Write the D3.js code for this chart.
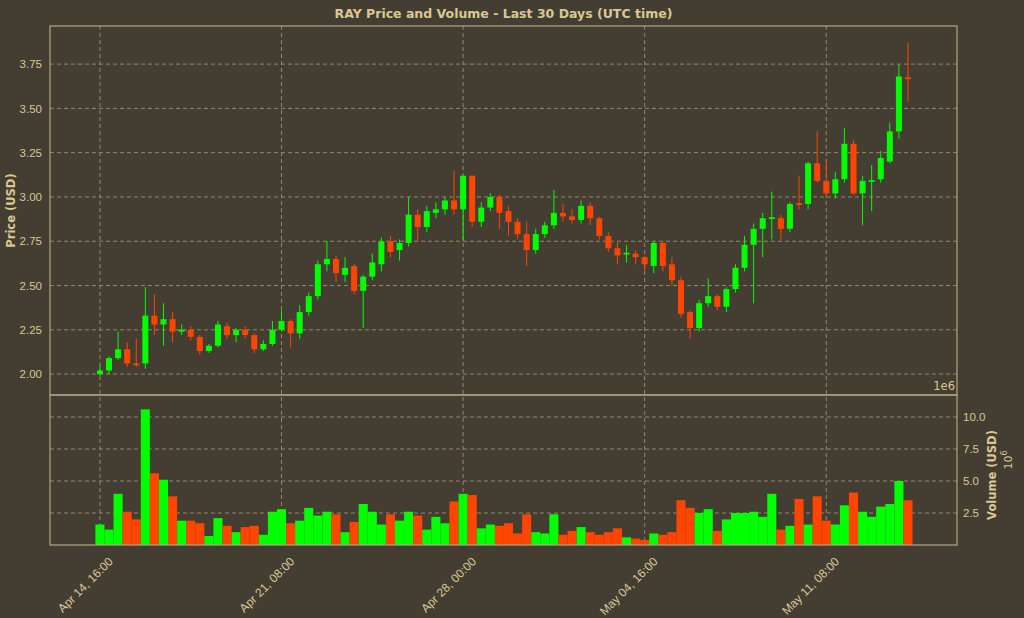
<!DOCTYPE html>
<html><head><meta charset="utf-8">
<script src="https://cdn.jsdelivr.net/npm/d3@7"></script>
<style>body{margin:0;background:#443d32;}svg{display:block;font-family:"DejaVu Sans",sans-serif;}</style>
</head><body><svg id="c" width="1024" height="618"></svg>
<script>
const opens =  [2.00,2.02,2.09,2.14,2.06,2.06,2.33,2.28,2.31,2.24,2.25,2.21,2.13,2.16,2.27,2.22,2.25,2.22,2.14,2.17,2.25,2.30,2.23,2.35,2.44,2.62,2.65,2.56,2.61,2.47,2.55,2.62,2.75,2.70,2.74,2.90,2.83,2.91,2.93,2.98,2.93,3.12,2.86,2.94,3.00,2.92,2.86,2.79,2.70,2.79,2.84,2.91,2.89,2.87,2.95,2.88,2.78,2.71,2.675,2.68,2.66,2.61,2.74,2.62,2.53,2.35,2.26,2.40,2.44,2.38,2.48,2.60,2.73,2.82,2.875,2.88,2.82,2.965,2.96,3.19,3.09,3.02,3.10,3.30,3.02,3.085,3.10,3.20,3.37,3.675];
const closes = [2.02,2.09,2.14,2.06,2.05,2.33,2.28,2.31,2.24,2.25,2.21,2.13,2.16,2.28,2.22,2.25,2.22,2.14,2.17,2.25,2.30,2.23,2.35,2.44,2.62,2.65,2.57,2.60,2.47,2.55,2.63,2.75,2.69,2.74,2.90,2.83,2.92,2.93,2.98,2.93,3.12,2.86,2.94,3.00,2.91,2.86,2.79,2.70,2.79,2.84,2.91,2.89,2.87,2.95,2.88,2.78,2.71,2.67,2.685,2.66,2.62,2.74,2.61,2.53,2.34,2.26,2.40,2.44,2.38,2.48,2.60,2.73,2.82,2.88,2.885,2.82,2.96,2.955,3.19,3.09,3.02,3.10,3.30,3.02,3.09,3.095,3.22,3.37,3.68,3.665];
const highs =  [2.05,2.10,2.24,2.18,2.20,2.49,2.45,2.40,2.35,2.28,2.27,2.22,2.17,2.30,2.29,2.26,2.27,2.23,2.19,2.30,2.36,2.31,2.39,2.46,2.64,2.75,2.67,2.66,2.62,2.56,2.68,2.77,2.78,2.76,3.00,2.93,2.95,2.97,3.00,3.15,3.12,3.12,2.97,3.02,3.01,2.95,2.88,2.86,2.82,2.86,3.04,2.96,2.93,2.98,2.97,2.89,2.80,2.75,2.73,2.70,2.67,2.75,2.75,2.66,2.55,2.36,2.42,2.54,2.45,2.49,2.62,2.78,2.85,2.91,3.03,2.90,2.97,3.12,3.20,3.37,3.21,3.14,3.39,3.32,3.12,3.18,3.26,3.42,3.75,3.87];
const lows =   [1.99,2.00,2.08,2.04,2.04,2.03,2.22,2.16,2.18,2.22,2.19,2.11,2.12,2.15,2.20,2.18,2.20,2.12,2.13,2.16,2.24,2.15,2.20,2.33,2.42,2.58,2.52,2.52,2.45,2.26,2.53,2.58,2.66,2.64,2.72,2.75,2.80,2.88,2.90,2.90,2.75,2.83,2.83,2.92,2.82,2.78,2.76,2.61,2.68,2.77,2.82,2.86,2.85,2.85,2.84,2.76,2.69,2.62,2.63,2.62,2.58,2.57,2.58,2.50,2.32,2.20,2.24,2.38,2.36,2.35,2.46,2.58,2.40,2.66,2.76,2.76,2.80,2.93,2.93,3.08,3.01,2.99,3.08,3.01,2.84,2.92,3.08,3.19,3.33,3.54];
const volumes = [1.6,1.2,4.0,2.6,2.0,10.6,5.6,5.1,3.8,1.9,1.9,1.7,0.7,2.1,1.5,1.0,1.4,1.5,0.8,2.6,2.8,1.7,1.9,2.9,2.3,2.6,2.4,1.0,1.8,3.2,2.6,1.6,2.4,1.9,2.6,2.3,1.2,2.2,1.7,3.4,4.0,3.9,1.3,1.6,1.5,1.7,0.9,2.4,1.0,0.9,2.4,0.8,1.1,1.4,1.0,0.8,1.0,1.3,0.6,0.5,0.4,0.9,0.8,1.0,3.5,2.9,2.5,2.8,1.1,2.0,2.5,2.5,2.6,2.2,4.0,1.2,1.5,3.6,1.6,3.8,1.9,1.6,3.1,4.1,2.6,2.2,3.0,3.2,5.0,3.5];
const xTickIdx = [0,20,40,60,80];
const xTickLabels = ["Apr 14, 16:00","Apr 21, 08:00","Apr 28, 00:00","May 04, 16:00","May 11, 08:00"];
const priceTicks = [2.00,2.25,2.50,2.75,3.00,3.25,3.50,3.75];
const volTicks = [2.5,5.0,7.5,10.0];

const TXT="#d9c894", GRID="#a79a78", FRAME="#b3a584", UP="#00ff00", DN="#ff4500";
const svg=d3.select("#c");
svg.append("rect").attr("width",1024).attr("height",618).attr("fill","#443d32");
const L=50,R=957,T=26,M=395,B=545;
const x=d3.scaleLinear().domain([-5.5,94.4]).range([L,R]);
const y=d3.scaleLinear().domain([1.882,3.965]).range([M,T]);
const yv=d3.scaleLinear().domain([0,11.72]).range([B,M]);
const grid=svg.append("g").attr("stroke",GRID).attr("stroke-dasharray","4,3").attr("stroke-width",0.8);
xTickIdx.forEach(i=>{grid.append("line").attr("x1",x(i)).attr("x2",x(i)).attr("y1",T).attr("y2",B);});
priceTicks.forEach(v=>grid.append("line").attr("x1",L).attr("x2",R).attr("y1",y(v)).attr("y2",y(v)));
volTicks.forEach(v=>grid.append("line").attr("x1",L).attr("x2",R).attr("y1",yv(v)).attr("y2",yv(v)));

const idx=d3.range(opens.length);
const col=i=>closes[i]>=opens[i]?UP:DN;
svg.append("g").selectAll("rect").data(idx).join("rect")
 .attr("x",i=>x(i-0.5)).attr("width",x(1)-x(0)).attr("y",i=>yv(volumes[i])).attr("height",i=>yv(0)-yv(volumes[i])).attr("fill",col);
const g=svg.append("g");
g.selectAll("line").data(idx).join("line").attr("x1",i=>x(i)).attr("x2",i=>x(i)).attr("y1",i=>y(highs[i])).attr("y2",i=>y(lows[i])).attr("stroke",col).attr("stroke-width",1);
g.selectAll("rect").data(idx).join("rect").attr("x",i=>x(i)-3).attr("width",6)
 .attr("y",i=>y(Math.max(opens[i],closes[i]))).attr("height",i=>Math.max(1.5,Math.abs(y(opens[i])-y(closes[i])))).attr("fill",col);

svg.append("rect").attr("x",L).attr("y",T).attr("width",R-L).attr("height",M-T).attr("fill","none").attr("stroke",FRAME).attr("stroke-width",1.2);
svg.append("rect").attr("x",L).attr("y",M).attr("width",R-L).attr("height",B-M).attr("fill","none").attr("stroke",FRAME).attr("stroke-width",1.2);

const ya=svg.append("g").attr("transform",`translate(${L},0)`).call(d3.axisLeft(y).tickValues(priceTicks).tickFormat(d3.format(".2f")).tickSize(0).tickPadding(8));
const yva=svg.append("g").attr("transform",`translate(${R},0)`).call(d3.axisRight(yv).tickValues(volTicks).tickFormat(d3.format(".1f")).tickSize(0).tickPadding(6));
const xa=svg.append("g").attr("transform",`translate(0,${B})`).call(d3.axisBottom(x).tickValues(xTickIdx).tickFormat((d,k)=>xTickLabels[k]).tickSize(0).tickPadding(6));
[ya,yva,xa].forEach(a=>{a.select(".domain").remove();a.selectAll("text").attr("fill",TXT).style("font-size","11.5px");});
xa.selectAll("text").style("font-size","12px").attr("text-anchor","end").attr("dx","0").attr("dy","10").attr("transform","translate(2,6) rotate(-45)");

svg.append("text").attr("x",(L+R)/2).attr("y",18).attr("text-anchor","middle").attr("fill",TXT).style("font-size","12.5px").style("font-weight","bold").text("RAY Price and Volume - Last 30 Days (UTC time)");
svg.append("text").attr("transform",`translate(15,${(T+M)/2}) rotate(-90)`).attr("text-anchor","middle").attr("fill",TXT).style("font-size","11.5px").style("font-weight","bold").text("Price (USD)");
svg.append("text").attr("x",R-2).attr("y",M-5).attr("text-anchor","end").attr("fill",TXT).style("font-size","11.5px").text("1e6");
const vl=svg.append("text").attr("transform",`translate(996,${(M+B)/2+5}) rotate(-90)`).attr("text-anchor","middle").attr("fill",TXT).style("font-size","11.5px");
vl.append("tspan").attr("x",0).attr("dy",0).style("font-weight","bold").text("Volume (USD)");
const t2=svg.append("text").attr("transform",`translate(1012,${(M+B)/2-10}) rotate(-90)`).attr("text-anchor","middle").attr("fill",TXT).style("font-size","11px");
t2.append("tspan").text("10");
t2.append("tspan").attr("dy",-5).style("font-size","8px").text("6");
</script></body></html>
